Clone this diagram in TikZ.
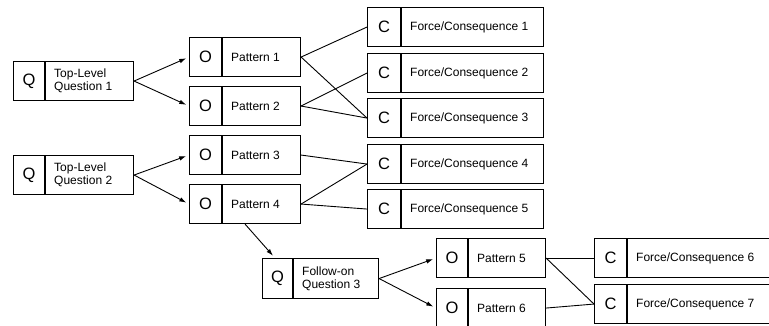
\documentclass[tikz,border=0pt]{standalone}
\usepackage{fontspec}
\setmainfont{Liberation Sans}
\usetikzlibrary{arrows.meta,calc}

\tikzset{
  cell/.style={draw=black, line width=1.1pt, rectangle, inner sep=0pt, anchor=north west},
  tag/.style={font=\fontsize{16.5}{16.5}\selectfont, inner sep=0pt},
  caption/.style={font=\fontsize{12}{12.8}\selectfont, anchor=west, align=left, inner sep=0pt},
  link/.style={line width=0.9pt},
  arrowlink/.style={line width=0.9pt, -{Latex[length=7pt,width=4.5pt]}, shorten >=3pt},
}

% #1 name, #2 left, #3 top, #4 width, #5 height, #6 divider offset, #7 letter, #8 text
\newcommand\itembox[8]{%
  \node[cell, minimum width=#4pt, minimum height=#5pt] (#1) at (#2,#3) {};
  \draw[line width=1.1pt] ($(#1.north west)+(#6,0)$) -- ($(#1.south west)+(#6,0)$);
  \node[tag] (#1-tag) at ($(#1.west)+(#6/2,0)$) {#7};
  \node[caption] (#1-text) at ($(#1.west)+(#6+9,0)$) {#8};
}

\begin{document}
\begin{tikzpicture}[x=1pt,y=-1pt]
  \useasboundingbox (0,0) rectangle (769,325);
  \clip (0,0) rectangle (769,325);
  \fill[white] (0,0) rectangle (769,325);

  % questions
  \itembox{q1}{13}{61}{120}{39}{32}{Q}{Top-Level\\Question 1}
  \itembox{q2}{13}{155}{120}{39}{32}{Q}{Top-Level\\Question 2}
  \itembox{q3}{262}{258}{116}{40}{31}{Q}{Follow-on\\Question 3}

  % patterns
  \itembox{p1}{189}{37}{111}{39}{33}{O}{Pattern 1}
  \itembox{p2}{189}{86}{111}{39}{33}{O}{Pattern 2}
  \itembox{p3}{189}{135}{111}{39}{33}{O}{Pattern 3}
  \itembox{p4}{189}{184}{111}{39}{33}{O}{Pattern 4}
  \itembox{p5}{436}{238}{109}{39}{32}{O}{Pattern 5}
  \itembox{p6}{436}{288}{109}{39}{32}{O}{Pattern 6}

  % forces / consequences
  \itembox{c1}{367}{7}{176}{39}{34}{C}{Force/Consequence 1}
  \itembox{c2}{367}{53}{176}{39}{34}{C}{Force/Consequence 2}
  \itembox{c3}{367}{98}{176}{39}{34}{C}{Force/Consequence 3}
  \itembox{c4}{367}{144}{176}{39}{34}{C}{Force/Consequence 4}
  \itembox{c5}{367}{189}{176}{39}{34}{C}{Force/Consequence 5}
  \itembox{c6}{594}{238}{176}{39}{33}{C}{Force/Consequence 6}
  \itembox{c7}{594}{284}{176}{39}{33}{C}{Force/Consequence 7}

  % question -> pattern arrows
  \draw[arrowlink] (q1.east) -- (p1.west);
  \draw[arrowlink] (q1.east) -- (p2.west);
  \draw[arrowlink] (q2.east) -- (p3.west);
  \draw[arrowlink] (q2.east) -- (p4.west);
  \draw[arrowlink] (q3.east) -- (p5.west);
  \draw[arrowlink] (q3.east) -- (p6.west);
  \draw[arrowlink] (p4.south) -- ([xshift=13pt]q3.north west);

  % pattern -> consequence links
  \draw[link] (p1.east) -- (c1.west);
  \draw[link] (p1.east) -- (c3.west);
  \draw[link] (p2.east) -- (c2.west);
  \draw[link] (p2.east) -- (c3.west);
  \draw[link] (p3.east) -- (c4.west);
  \draw[link] (p4.east) -- (c4.west);
  \draw[link] (p4.east) -- (c5.west);
  \draw[link] (p5.east) -- (c6.west);
  \draw[link] (p5.east) -- (c7.west);
  \draw[link] (p6.east) -- (c7.west);
\end{tikzpicture}
\end{document}
